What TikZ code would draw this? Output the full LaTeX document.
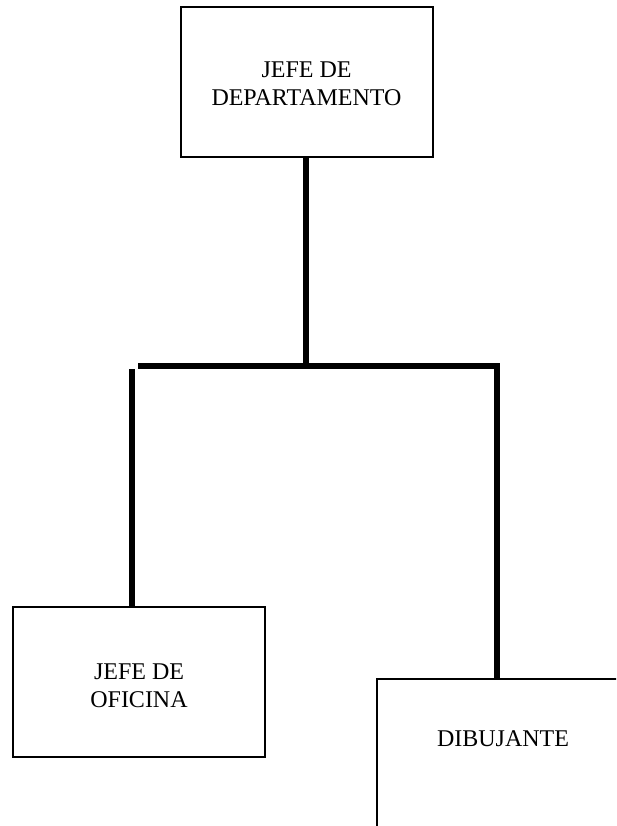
\documentclass[tikz,border=0pt]{standalone}
\usepackage{fontspec}
\setmainfont{Liberation Serif}
\usepackage{tikz}

\tikzset{
    cargo/.style={draw, line width=2pt, minimum width=252pt, minimum height=150pt,
        align=center, font=\fontsize{24}{28}\selectfont, inner sep=0pt},
    linea/.style={line width=6pt}
}

\begin{document}
\begin{tikzpicture}[x=1pt, y=-1pt]
    \useasboundingbox (0,0) rectangle (616,826);
    \clip (0,0) rectangle (616,826);
    \node[cargo, text height=48pt] (jefe) at (306.5,82) {JEFE DE\\DEPARTAMENTO};
    \node[cargo, text height=52pt] (ofi) at (139,682) {JEFE DE\\OFICINA};
    \node[cargo, text depth=30pt] (dib) at (503,754) {DIBUJANTE};
    \coordinate (barL) at (138,366);
    \coordinate (barR) at (500,366);
    \coordinate (bajada) at (132,369);
    \draw[linea] (jefe.south -| 306,0) -- (306,366);
    \draw[linea] (barL) -- (barR);
    \draw[linea] (497,363) -- (497,366 |- dib.north);
    \draw[linea] (bajada) -- (bajada |- ofi.north);
\end{tikzpicture}
\end{document}
